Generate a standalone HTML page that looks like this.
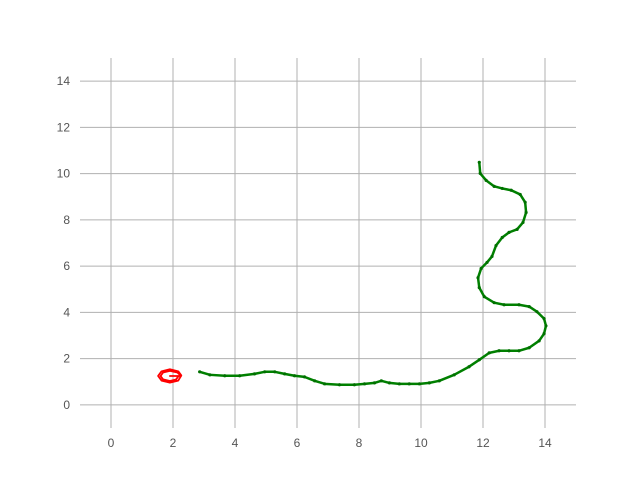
<!DOCTYPE html>
<html><head><meta charset="utf-8"><style>
body{margin:0;background:#fff;}
svg text{font-family:"Liberation Sans",sans-serif;font-size:12px;fill:#555;}
</style></head><body>
<svg id="chart" width="640" height="480" xmlns="http://www.w3.org/2000/svg">
<g id="grid"></g>
<g id="ticks"></g>
<g id="series"></g>
</svg>
<script>
const xTicks=[0,2,4,6,8,10,12,14];
const yTicks=[0,2,4,6,8,10,12,14];
const greenX=[2.86,3.19,3.67,4.15,4.63,4.96,5.28,5.60,5.92,6.24,6.57,6.89,7.37,7.85,8.18,8.50,8.72,8.98,9.30,9.62,9.95,10.27,10.59,11.07,11.55,11.88,12.20,12.52,12.84,13.16,13.49,13.81,13.97,14.03,13.97,13.74,13.49,13.16,12.68,12.36,12.04,11.88,11.84,11.94,12.13,12.29,12.42,12.62,12.84,13.10,13.29,13.39,13.36,13.20,12.91,12.62,12.36,12.10,11.91,11.88];
const greenY=[1.43,1.30,1.26,1.26,1.34,1.43,1.43,1.34,1.26,1.21,1.04,0.91,0.87,0.87,0.91,0.95,1.04,0.95,0.91,0.91,0.91,0.95,1.04,1.30,1.65,1.95,2.25,2.34,2.34,2.34,2.47,2.77,3.08,3.42,3.73,4.03,4.25,4.33,4.33,4.42,4.68,5.07,5.50,5.90,6.16,6.42,6.89,7.24,7.46,7.59,7.89,8.32,8.76,9.10,9.28,9.36,9.45,9.71,10.01,10.49];
const redX=[2.28,2.17,1.9,1.63,1.52,1.63,1.9,2.17,2.26,2.14,1.9,1.68,1.6,1.68,1.9,2.1,2.18,1.9,2.28];
const redY=[1.25,1.45,1.54,1.45,1.25,1.05,0.96,1.05,1.25,1.4,1.47,1.4,1.25,1.1,1.03,1.1,1.25,1.25,1.25];
const X0=80,X1=576,Y0=428,Y1=58,xmin=-1,xmax=15,ymin=-1,ymax=15;
const sx=v=>X0+(v-xmin)/(xmax-xmin)*(X1-X0);
const sy=v=>Y0-(v-ymin)/(ymax-ymin)*(Y0-Y1);
const NS="http://www.w3.org/2000/svg";
function mk(t,a,p){const e=document.createElementNS(NS,t);for(const k in a)e.setAttribute(k,a[k]);p.appendChild(e);return e;}
const grid=document.getElementById('grid'),ticks=document.getElementById('ticks'),series=document.getElementById('series');
xTicks.forEach(v=>{
 const l=mk('line',{x1:sx(v),x2:sx(v),y1:Y1,y2:Y0,stroke:'#b0b0b0','stroke-width':1},grid);
 
 
 const t=mk('text',{x:sx(v),y:447,'text-anchor':'middle'},ticks);t.textContent=v;
 
 
});
yTicks.forEach(v=>{
 const l=mk('line',{x1:X0,x2:X1,y1:sy(v),y2:sy(v),stroke:'#b0b0b0','stroke-width':1},grid);
 
 
 const t=mk('text',{x:70,y:sy(v)+4,'text-anchor':'end'},ticks);t.textContent=v;
 
 
});
const gp=mk('polyline',{points:greenX.map((x,i)=>sx(x)+','+sy(greenY[i])).join(' '),fill:'none',stroke:'#008000','stroke-width':2.5,'stroke-linejoin':'round','stroke-linecap':'round'},series);


greenX.forEach((x,i)=>{const c=mk('circle',{cx:sx(x),cy:sy(greenY[i]),r:1.6,fill:'#007000'},series);
 
 });
const rp=mk('polyline',{points:redX.map((x,i)=>sx(x)+','+sy(redY[i])).join(' '),fill:'none',stroke:'#ff0000','stroke-width':1.8,'stroke-linejoin':'round'},series);


</script>
</body></html>
